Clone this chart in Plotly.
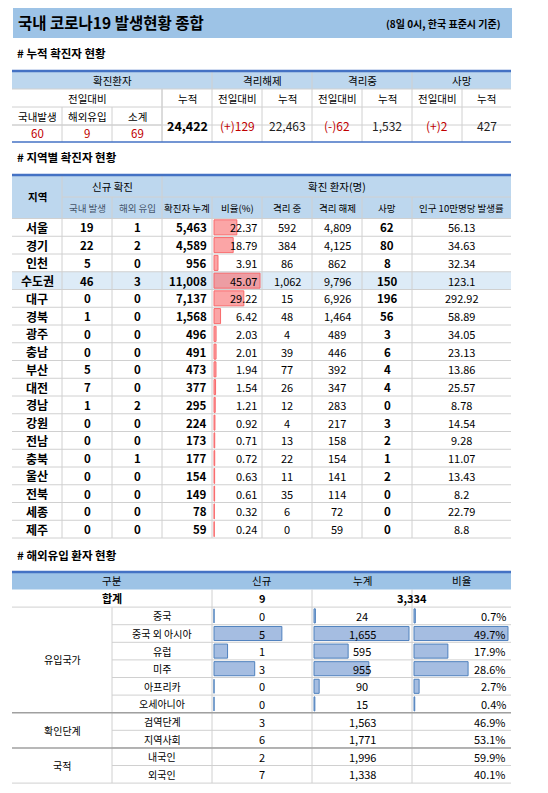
import plotly.graph_objects as go

# ---------- data ----------
summary_headers = ["국내발생", "해외유입", "소계"]
summary_new = [60, 9, 69]
summary_cum = "24,422"
released_diff, released_cum = "(+)129", "22,463"
isolating_diff, isolating_cum = "(-)62", "1,532"
death_diff, death_cum = "(+)2", "427"

regions = ['서울','경기','인천','수도권','대구','경북','광주','충남','부산','대전','경남','강원','전남','충북','울산','전북','세종','제주']
local = [19,22,5,46,0,1,0,0,5,7,1,0,0,0,0,0,0,0]
imported = [1,2,0,3,0,0,0,0,0,0,2,0,0,1,0,0,0,0]
total = [5463,4589,956,11008,7137,1568,496,491,473,377,295,224,173,177,154,149,78,59]
ratio = [22.37,18.79,3.91,45.07,29.22,6.42,2.03,2.01,1.94,1.54,1.21,0.92,0.71,0.72,0.63,0.61,0.32,0.24]
isolating = [592,384,86,1062,15,48,4,39,77,26,12,4,13,22,11,35,6,0]
released = [4809,4125,862,9796,6926,1464,489,446,392,347,283,217,158,154,141,114,72,59]
deaths = [62,80,8,150,196,56,3,6,4,4,0,3,2,1,2,0,0,0]
per100k = ['56.13','34.63','32.34','123.1','292.92','58.89','34.05','23.13','13.86','25.57','8.78','14.54','9.28','11.07','13.43','8.2','22.79','8.8']

imp_total_new, imp_total_cum = 9, 3334
imp_groups = [("유입국가", 6), ("확인단계", 2), ("국적", 2)]
imp_cats = ['중국','중국 외 아시아','유럽','미주','아프리카','오세아니아','검역단계','지역사회','내국인','외국인']
imp_new = [0,5,1,3,0,0,3,6,2,7]
imp_cum = [24,1655,595,955,90,15,1563,1771,1996,1338]
imp_pct = [0.7,49.7,17.9,28.6,2.7,0.4,46.9,53.1,59.9,40.1]

# ---------- helpers ----------
FONT = "Noto Sans CJK KR"
RED = "#C00000"
HDR = "#BDD7EE"
GRID = "#D0D0D0"
BORDER = "#4472C4"
OFF = 8  # page body margin compensation
shapes, annots = [], []

def rect(x0, y0, x1, y1, fill, line=None, lw=0):
    shapes.append(dict(type="rect", x0=x0, y0=y0, x1=x1, y1=y1, xref="x", yref="y",
                       fillcolor=fill, line=dict(width=lw, color=line or fill), layer="below"))

def hline(x0, x1, y, color=GRID, w=1):
    shapes.append(dict(type="line", x0=x0, x1=x1, y0=y, y1=y, xref="x", yref="y",
                       line=dict(color=color, width=w), layer="above"))

def vline(x, y0, y1, color=GRID, w=1):
    shapes.append(dict(type="line", x0=x, x1=x, y0=y0, y1=y1, xref="x", yref="y",
                       line=dict(color=color, width=w), layer="above"))

def text(x, y, s, size=10, color="#000", bold=False, anchor="center"):
    if bold:
        s = "<b>%s</b>" % s
    annots.append(dict(x=x, y=y, xref="x", yref="y", text=s, showarrow=False,
                       xanchor=anchor, yanchor="middle",
                       font=dict(family=FONT, size=size, color=color)))

def cell(x0, x1, y, s, align="center", **kw):
    if align == "center":
        text((x0 + x1) / 2, y, s, anchor="center", **kw)
    elif align == "right":
        text(x1 - 3, y, s, anchor="right", **kw)
    else:
        text(x0 + 3, y, s, anchor="left", **kw)

# ---------- title ----------
rect(13, 6, 512, 38, "#9DC3E6")
text(16, 22, "국내 코로나19 발생현황 종합", size=15.5, bold=True, anchor="left")
text(503, 23, "(8일 0시, 한국 표준시 기준)", size=10, bold=True, anchor="right")

# ---------- table 1 ----------
text(15, 53, "# 누적 확진자 현황", size=11.5, bold=True, anchor="left")
c1 = [12, 62, 112, 162, 212, 262, 312, 362, 412, 462, 511]
r1 = [71, 89, 107, 125, 142]
rect(12, 71, 511, 89, HDR)
for y in r1[1:-1]:
    hline(12, 511, y)
hline(12, 162, 125)
for x in c1[1:-1]:
    if x in (62, 112):
        vline(x, 107, 142)
    elif x in (212, 312, 412):
        vline(x, 71, 142)
    else:
        vline(x, 89, 142)
vline(162, 89, 142)
hline(12, 511, 71, BORDER, 2.5)
hline(12, 511, 142, BORDER, 1.5)
for (a, b, s) in [(12, 212, "확진환자"), (212, 312, "격리해제"), (312, 412, "격리중"), (412, 511, "사망")]:
    cell(a, b, 80, s, size=10.5)
cell(12, 162, 98, "전일대비", size=10.5)
for i, s in enumerate(["누적", "전일대비", "누적", "전일대비", "누적", "전일대비", "누적"]):
    cell(c1[3 + i], c1[4 + i], 98, s, size=10.5)
for i, (h, v) in enumerate(zip(summary_headers, summary_new)):
    cell(c1[i], c1[i + 1], 116, h, size=10.5)
    cell(c1[i], c1[i + 1], 133, str(v), size=11.5, color=RED)
cell(162, 212, 125, summary_cum, size=12.5, bold=True)
for i, (s, red) in enumerate([(released_diff, 1), (released_cum, 0), (isolating_diff, 1),
                               (isolating_cum, 0), (death_diff, 1), (death_cum, 0)]):
    cell(c1[4 + i], c1[5 + i], 125, s, size=12, color=RED if red else "#222")

# ---------- table 2 ----------
text(15, 157, "# 지역별 확진자 현황", size=11.5, bold=True, anchor="left")
c2 = [12, 62, 112, 162, 212, 262, 312, 362, 412, 511]
top2, h1, h2 = 175, 197, 218.5
rh2 = 17.75
rect(12, top2, 511, h2, HDR)
rd = regions.index('수도권')
rect(12, h2 + rd * rh2, 511, h2 + (rd + 1) * rh2, "#DDEBF7")
end2 = h2 + len(regions) * rh2
hline(62, 511, h1)
for k in range(len(regions) + 1):
    hline(12, 511, h2 + k * rh2)
for x in c2[1:-1]:
    vline(x, top2 if x in (62, 162) else h1, end2)
hline(12, 511, top2, BORDER, 2.5)
cell(12, 62, (top2 + h2) / 2, "지역", size=10.5, bold=True)
cell(62, 162, (top2 + h1) / 2, "신규 확진", size=10.5)
cell(162, 511, (top2 + h1) / 2, "확진 환자(명)", size=10.5)
subh = ["국내 발생", "해외 유입", "확진자 누계", "비율(%)", "격리 중", "격리 해제", "사망", "인구 10만명당 발생률"]
for i, s in enumerate(subh):
    cell(c2[1 + i], c2[2 + i], (h1 + h2) / 2, s, size=9.5, color="#44546A" if i < 2 else "#000")
ys2 = [h2 + (k + 0.5) * rh2 for k in range(len(regions))]
for k, y in enumerate(ys2):
    cell(12, 62, y, regions[k], size=12, bold=True)
    cell(62, 112, y, str(local[k]), size=11.5, bold=True)
    cell(112, 162, y, str(imported[k]), size=11.5, bold=True)
    cell(162, 212, y, f"{total[k]:,}", size=11.5, bold=True, align="right")
    cell(212, 262, y, f"{ratio[k]:.2f}", size=11, align="right")
    cell(262, 312, y, f"{isolating[k]:,}", size=11)
    cell(312, 362, y, f"{released[k]:,}", size=11)
    cell(362, 412, y, str(deaths[k]), size=11.5, bold=True)
    cell(412, 511, y, per100k[k], size=11)

bars = []
scale_r = 46 / max(ratio)
bars.append(go.Bar(orientation="h", y=ys2, x=[r * scale_r for r in ratio], base=214,
                   width=rh2 * 0.85, marker=dict(color="rgba(248,105,107,0.6)",
                   line=dict(color="#F8696B", width=1)), hoverinfo="skip"))

# ---------- table 3 ----------
text(15, 555, "# 해외유입 환자 현황", size=11.5, bold=True, anchor="left")
c3 = [12, 112, 212, 312, 412, 511]
top3, hd3 = 572, 589.5
rh3 = 17.6
rect(12, top3, 511, hd3, "#9DC3E6")
hline(12, 511, top3, BORDER, 2.5)
for (a, b, s) in [(12, 212, "구분"), (212, 312, "신규"), (312, 412, "누계"), (412, 511, "비율")]:
    cell(a, b, (top3 + hd3) / 2, s, size=10.5)
end3 = hd3 + (len(imp_cats) + 1) * rh3
hline(12, 511, hd3 + rh3)
for k in range(2, len(imp_cats) + 1):
    hline(112, 511, hd3 + k * rh3)
hline(12, 511, end3)
vline(112, hd3 + rh3, end3)
for x in (212, 312, 412):
    vline(x, hd3, end3)
cell(12, 212, hd3 + rh3 / 2, "합계", size=11, bold=True)
cell(212, 312, hd3 + rh3 / 2, str(imp_total_new), size=11, bold=True)
cell(312, 511, hd3 + rh3 / 2, f"{imp_total_cum:,}", size=11, bold=True)
start = 1
for gname, n in imp_groups:
    y0 = hd3 + start * rh3
    y1 = y0 + n * rh3
    if start > 1:
        hline(12, 511, y0, "#A0A0A0", 1.5)
    cell(12, 112, (y0 + y1) / 2, gname, size=10)
    start += n
ys3 = [hd3 + (k + 1.5) * rh3 for k in range(len(imp_cats))]
for k, y in enumerate(ys3):
    cell(112, 212, y, imp_cats[k], size=10)
    cell(212, 312, y, str(imp_new[k]), size=11)
    cell(312, 412, y, f"{imp_cum[k]:,}", size=11)
    cell(412, 511, y, f"{imp_pct[k]:.1f}%", size=11, align="right")
nb = 6
bstyle = dict(color="rgba(91,135,200,0.55)", line=dict(color="#4F81BD", width=1))
bars.append(go.Bar(orientation="h", y=ys3[:nb], x=[v * 95 / max(imp_new) for v in imp_new[:nb]],
                   base=214, width=rh3 * 0.8, marker=bstyle, hoverinfo="skip"))
bars.append(go.Bar(orientation="h", y=ys3[:nb], x=[v * 95 / max(imp_cum[:nb]) for v in imp_cum[:nb]],
                   base=314, width=rh3 * 0.8, marker=bstyle, hoverinfo="skip"))
bars.append(go.Bar(orientation="h", y=ys3[:nb], x=[v * 94 / max(imp_pct[:nb]) for v in imp_pct[:nb]],
                   base=414, width=rh3 * 0.8, marker=bstyle, hoverinfo="skip"))

fig = go.Figure(bars)
fig.update_layout(
    width=548, height=793, margin=dict(l=0, r=0, t=0, b=0),
    plot_bgcolor="white", paper_bgcolor="white", showlegend=False, barmode="overlay",
    xaxis=dict(range=[OFF, 548 + OFF], visible=False, fixedrange=True),
    yaxis=dict(range=[793 + OFF, OFF], visible=False, fixedrange=True),
    shapes=shapes, annotations=annots,
)
fig.write_html("out.html", config={"displayModeBar": False})
